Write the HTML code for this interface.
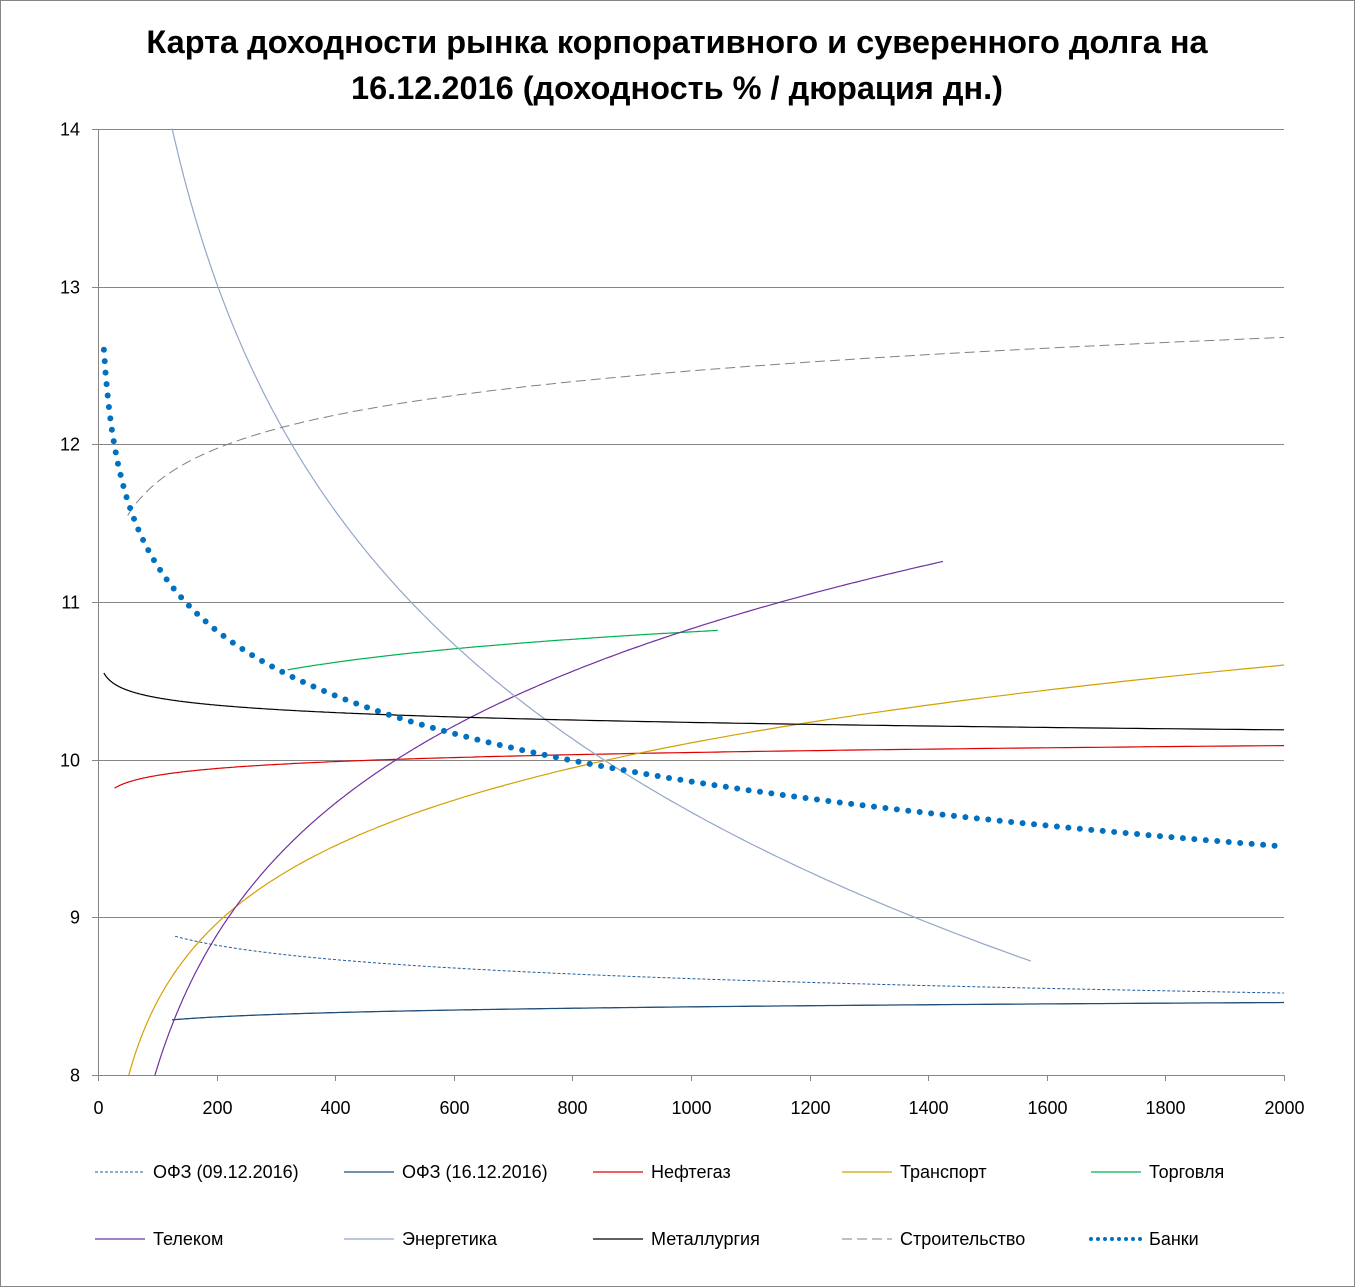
<!DOCTYPE html>
<html><head><meta charset="utf-8"><style>
body{margin:0;background:#fff}
svg{display:block;font-family:"Liberation Sans","DejaVu Sans",sans-serif}
</style></head><body>
<svg id="s" width="1355" height="1287" xmlns="http://www.w3.org/2000/svg">
<rect x="0.5" y="0.5" width="1354" height="1286" fill="#fff" stroke="#868686"/>
<text x="677" y="53" text-anchor="middle" font-size="32.5" font-weight="bold">Карта доходности рынка корпоративного и суверенного долга на</text>
<text x="677" y="99" text-anchor="middle" font-size="32.5" font-weight="bold">16.12.2016 (доходность % / дюрация дн.)</text>
<g id="grid" stroke="#868686" stroke-width="1"></g>
<g id="lines" fill="none"></g>
<g id="leg" font-size="18"></g>
</svg>
<script>
var NS="http://www.w3.org/2000/svg";
function X(v){return 98+v*1186/2000}
function Y(v){return 1075-(v-8)*157.67}
function el(p,t,a,txt){var e=document.createElementNS(NS,t);for(var k in a)e.setAttribute(k,a[k]);if(txt)e.textContent=txt;p.appendChild(e);return e}
var g=document.getElementById('grid'),L=document.getElementById('lines'),lg=document.getElementById('leg');
for(var i=8;i<=14;i++){var y=Math.round(Y(i))+0.5;if(i>8)el(g,'line',{x1:98,x2:1284,y1:y,y2:y});el(g,'line',{x1:92,x2:98,y1:y,y2:y});el(lg,'text',{x:80,y:y+6,'text-anchor':'end'},''+i)}
el(g,'line',{x1:98.5,x2:98.5,y1:129,y2:1075});el(g,'line',{x1:98,x2:1284,y1:1075.5,y2:1075.5});
for(var v=0;v<=2000;v+=200){var x=Math.round(X(v))+0.5;el(g,'line',{x1:x,x2:x,y1:1075,y2:1081});el(lg,'text',{x:x,y:1114,'text-anchor':'middle'},''+v)}
var S=[
 ['ОФЗ (09.12.2016)','#1f5c99',1,'3 2',-0.1317,9.521,130,2000],
 ['ОФЗ (16.12.2016)','#1f4e79',1.3,'',0.0397,8.158,125,2000],
 ['Нефтегаз','#e00000',1.2,'',0.0632,9.609,28,2000],
 ['Транспорт','#d4a000',1.2,'',0.7123,5.186,52,2000],
 ['Торговля','#00b050',1.2,'',0.211,9.353,320,1045],
 ['Телеком','#7030a0',1.2,'',1.208,2.485,96,1425],
 ['Энергетика','#94a6c8',1.2,'',-2.085,24.07,125,1573],
 ['Металлургия','#000000',1.2,'',-0.068,10.706,10,2000],
 ['Строительство','#808080',1,'10 5',0.3063,10.35,50,2000],
 ['Банки','#0070c0',6,'0 11.5',-0.5946,13.969,10,1990]
];
S.forEach(function(s,k){
 var d='';for(var i=0;i<=400;i++){var x=s[6]*Math.pow(s[7]/s[6],i/400);var yv=s[4]*Math.log(x)+s[5];d+=(i?'L':'M')+X(x).toFixed(1)+' '+Y(yv).toFixed(1)}
 var a={d:d,stroke:s[1],'stroke-width':s[2]};if(s[3])a['stroke-dasharray']=s[3];if(k==9)a['stroke-linecap']='round';
 el(L,'path',a);
 var col=k%5,row=Math.floor(k/5),lx=95+col*249,ly=row?1239:1172;
 var b={x1:lx,x2:lx+50,y1:ly,y2:ly,stroke:s[1],'stroke-width':k==9?4:s[2]};
 if(s[3])b['stroke-dasharray']=k==9?'0 7':s[3];if(k==9)b['stroke-linecap']='round';
 el(lg,'line',b);el(lg,'text',{x:lx+58,y:ly+6},s[0]);
});
</script>
</body></html>
